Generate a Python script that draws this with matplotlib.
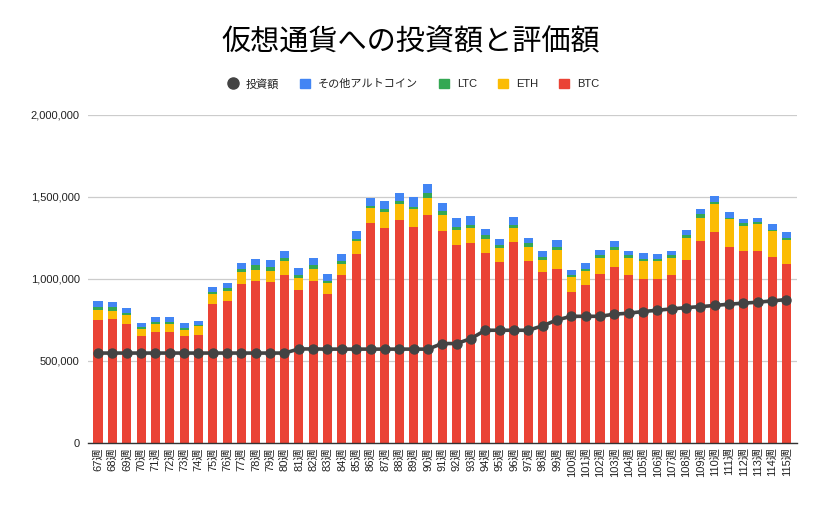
import matplotlib
matplotlib.use("Agg")
import matplotlib.pyplot as plt
from matplotlib.lines import Line2D
from matplotlib.patches import Patch
from matplotlib.ticker import FuncFormatter

plt.rcParams['font.family'] = ['Noto Sans CJK JP', 'DejaVu Sans']

# data (yen), weeks 67..115
weeks = [f"{w}週" for w in range(67, 116)]

btc = [752, 758, 728, 655, 679, 679, 649, 661, 850, 868,
       966, 990, 984, 1021, 935, 990, 905, 1021, 1149, 1338,
       1313, 1356, 1319, 1387, 1289, 1204, 1216, 1155, 1100, 1222,
       1112, 1045, 1063, 923, 960, 1027, 1075, 1021, 1002, 1002,
       1021, 1118, 1228, 1283, 1197, 1167, 1167, 1136, 1088]
eth = [61, 49, 49, 42, 49, 49, 42, 49, 55, 61,
       73, 67, 67, 85, 73, 73, 67, 71, 79, 91,
       92, 98, 104, 109, 98, 91, 97, 91, 91, 91,
       85, 73, 116, 91, 91, 103, 104, 109, 110, 110,
       109, 134, 146, 171, 165, 158, 165, 153, 152]
ltc = [18, 20, 18, 10, 12, 12, 12, 10, 18, 18,
       20, 25, 22, 24, 17, 19, 18, 18, 16, 18,
       22, 22, 16, 29, 24, 24, 17, 19, 13, 17,
       19, 16, 16, 11, 10, 13, 16, 13, 12, 10,
       13, 13, 19, 12, 12, 13, 12, 12, 12]
other = [37, 35, 30, 27, 30, 30, 31, 26, 30, 31,
         35, 42, 45, 43, 44, 48, 37, 43, 49, 47,
         49, 49, 61, 55, 53, 53, 54, 40, 40, 48,
         34, 37, 39, 32, 33, 36, 33, 30, 31, 27,
         30, 30, 30, 42, 31, 30, 30, 31, 31]
invest = [548, 548, 548, 548, 548, 548, 548, 548, 548, 548,
          548, 548, 548, 548, 573, 573, 572, 572, 572, 572,
          572, 572, 572, 572, 606, 606, 636, 687, 687, 687,
          687, 714, 750, 772, 772, 772, 785, 791, 801, 809,
          817, 825, 831, 838, 846, 852, 858, 866, 874]

# to yen
btc = [v * 1000 for v in btc]
eth = [v * 1000 for v in eth]
ltc = [v * 1000 for v in ltc]
other = [v * 1000 for v in other]
invest = [v * 1000 for v in invest]

c_btc = '#ea4335'
c_eth = '#fbbc04'
c_ltc = '#34a853'
c_other = '#4285f4'
c_line = '#434343'
tick_font = ['Liberation Sans', 'Noto Sans CJK JP']

fig = plt.figure(figsize=(8.22, 5.08), dpi=100)
ax = fig.add_axes([0.107, 0.128, 0.862, 0.646])

x = list(range(len(weeks)))
w = 0.63
b1 = [a + b for a, b in zip(btc, eth)]
b2 = [a + b for a, b in zip(b1, ltc)]
ax.bar(x, btc, width=w, color=c_btc, zorder=2)
ax.bar(x, eth, width=w, bottom=btc, color=c_eth, zorder=2)
ax.bar(x, ltc, width=w, bottom=b1, color=c_ltc, zorder=2)
ax.bar(x, other, width=w, bottom=b2, color=c_other, zorder=2)
ax.plot(x, invest, color=c_line, lw=2.6, marker='o', ms=6.5, zorder=3)

ax.set_ylim(0, 2000000)
ax.set_xlim(-0.7, len(weeks) - 0.3)
ax.set_yticks([0, 500000, 1000000, 1500000, 2000000])
ax.yaxis.set_major_formatter(FuncFormatter(lambda v, p: f"{int(v):,}"))
ax.set_xticks(x)
ax.set_xticklabels(weeks, rotation=90)
ax.tick_params(axis='y', length=0, pad=6, labelsize=8, labelcolor='#222222')
ax.tick_params(axis='x', length=0, pad=3, labelsize=8, labelcolor='#222222')
for lab in ax.get_xticklabels() + ax.get_yticklabels():
    lab.set_family(tick_font)
ax.grid(axis='y', color='#cccccc', lw=0.9, zorder=0)
for s in ['top', 'right', 'left']:
    ax.spines[s].set_visible(False)
ax.spines['bottom'].set_color('#333333')
ax.spines['bottom'].set_linewidth(1.0)
ax.spines['bottom'].set_zorder(4)

fig.suptitle('仮想通貨への投資額と評価額', x=0.5, y=1 - 42 / 508, va='center',
             fontsize=21, color='#000000')

handles = [
    Line2D([], [], color=c_line, marker='o', ls='none', ms=8),
    Patch(color=c_other),
    Patch(color=c_ltc),
    Patch(color=c_eth),
    Patch(color=c_btc),
]
labels = ['投資額', 'その他アルトコイン', 'LTC', 'ETH', 'BTC']
leg = fig.legend(handles, labels, loc='center', bbox_to_anchor=(0.503, 1 - 84 / 508), ncol=5,
                 frameon=False, fontsize=8, handlelength=0.9, handleheight=0.9,
                 handletextpad=0.7, columnspacing=1.9, labelcolor='#222222')
for t in leg.get_texts()[2:]:
    t.set_family(tick_font)

fig.savefig('out.png', dpi=100)
